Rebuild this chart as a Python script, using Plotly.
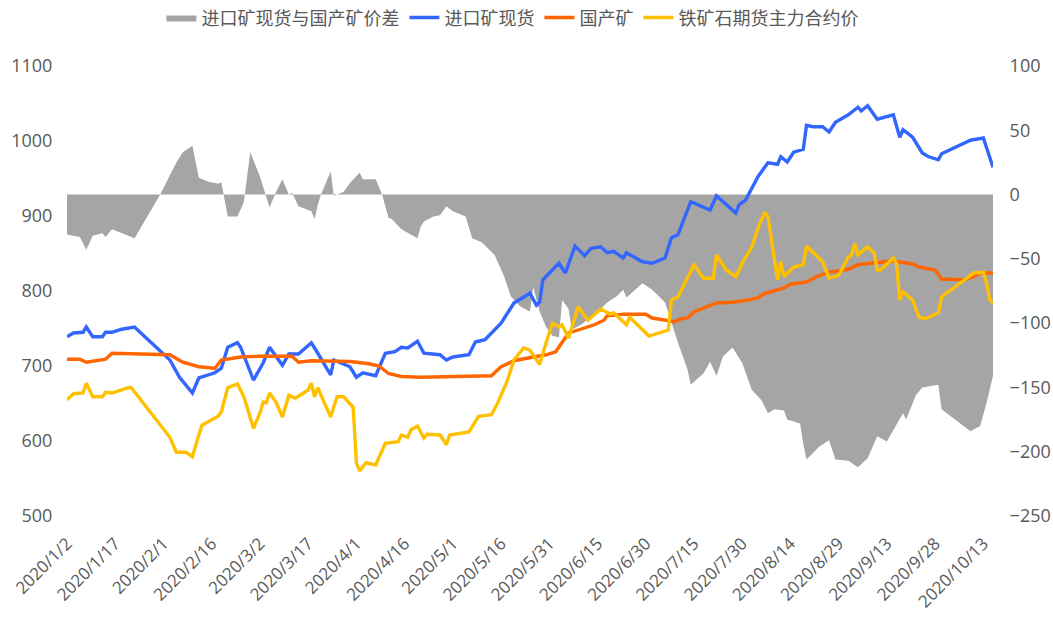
import plotly.graph_objects as go

# ---------------- data ----------------
imp_dates = ["01-02","01-04","01-07","01-08","01-10","01-13","01-14","01-16","01-19","01-23",
             "02-03","02-06","02-10","02-12","02-17","02-19","02-21","02-24","02-25","02-29",
             "03-03","03-05","03-09","03-11","03-14","03-18","03-20","03-24","03-25","03-30",
             "04-01","04-03","04-07","04-10","04-13","04-15","04-17","04-20","04-22","04-27",
             "04-29","05-01","05-06","05-08","05-11","05-16","05-20","05-25","05-27","05-28",
             "05-29","05-31","06-03","06-05","06-08","06-11","06-13","06-16","06-18","06-20",
             "06-23","06-24","06-29","07-02","07-06","07-08","07-10","07-14","07-20","07-22",
             "07-25","07-28","07-29","07-31","08-04","08-07","08-10","08-11","08-13","08-15",
             "08-18","08-19","08-21","08-24","08-26","08-27","08-28","09-01","09-04","09-05",
             "09-07","09-10","09-15","09-17","09-18","09-21","09-24","09-26","09-29","09-30",
             "10-09","10-13","10-16"]
imp_vals = [739,744,745,752,739,739,745,745,749,752,
            708,685,664,684,691,697,725,731,725,681,
            704,725,701,716,716,731,717,688,708,699,
            685,691,687,717,719,725,724,733,717,715,
            708,712,715,732,735,757,784,797,781,785,
            815,824,837,824,860,847,857,859,851,853,
            844,851,839,837,844,871,875,919,908,927,
            915,904,915,921,953,971,969,979,972,985,
            989,1021,1019,1019,1012,1019,1025,1035,1045,1040,
            1047,1029,1035,1005,1015,1005,984,979,975,983,
            1001,1004,965]

dom_dates = ["01-02","01-06","01-08","01-11","01-14","01-16","02-03","02-07","02-12","02-17",
             "02-19","02-25","03-02","03-12","03-14","03-18","03-30","04-05","04-08","04-11",
             "04-15","04-21","04-30","05-08","05-13","05-16","05-20","05-26","05-30","06-02",
             "06-04","06-06","06-09","06-14","06-17","06-18","06-23","06-30","07-02","07-07",
             "07-09","07-11","07-13","07-15","07-19","07-22","07-27","08-01","08-04","08-06",
             "08-08","08-12","08-14","08-19","08-22","08-26","09-01","09-04","09-08","09-15",
             "09-21","09-23","09-28","09-30","10-07","10-10","10-12","10-16"]
dom_vals = [709,709,705,707,709,717,715,705,699,697,
            708,712,713,713,705,707,706,703,700,690,
            686,685,686,686,687,699,707,712,715,719,
            732,744,748,755,761,767,769,769,764,761,
            759,763,764,772,779,784,785,788,791,797,
            799,804,809,812,819,825,829,835,837,840,
            836,832,828,816,815,819,824,824]

fut_dates = ["01-02","01-04","01-07","01-08","01-10","01-13","01-14","01-16","01-21","01-22",
             "02-03","02-05","02-08","02-10","02-12","02-13","02-18","02-19","02-21","02-24",
             "02-26","02-29","03-02","03-03","03-04","03-05","03-07","03-09","03-11","03-13",
             "03-17","03-18","03-19","03-20","03-24","03-26","03-28","03-31","04-01","04-02",
             "04-04","04-07","04-10","04-14","04-15","04-17","04-18","04-20","04-22","04-23",
             "04-27","04-29","04-30","05-06","05-09","05-13","05-15","05-18","05-20","05-23",
             "05-25","05-27","05-28","05-30","06-01","06-03","06-04","06-06","06-09","06-12",
             "06-16","06-19","06-20","06-24","06-25","07-01","07-07","07-08","07-10","07-15",
             "07-18","07-21","07-22","07-25","07-28","07-30","08-02","08-04","08-06","08-07",
             "08-10","08-11","08-12","08-15","08-18","08-19","08-21","08-24","08-26","08-29",
             "09-01","09-02","09-03","09-04","09-07","09-09","09-10","09-11","09-15","09-16",
             "09-17","09-18","09-21","09-23","09-25","09-29","09-30","10-10","10-13","10-14",
             "10-15","10-16"]
fut_vals = [655,663,664,677,659,659,665,664,671,671,
            605,585,585,579,608,621,633,639,671,676,
            659,617,637,652,651,664,652,632,661,657,
            668,677,659,671,632,659,659,645,571,560,
            571,568,597,599,608,605,615,620,604,609,
            608,595,608,612,633,635,651,681,708,724,
            721,708,702,731,757,752,755,737,779,761,
            776,769,771,755,765,740,748,788,792,835,
            817,817,848,828,819,837,859,885,905,899,
            815,839,819,832,835,860,851,839,817,821,
            845,848,863,848,859,851,828,828,844,837,
            788,799,788,765,763,771,792,824,825,811,
            788,784]

spr_dates = ["01-02","01-04","01-06","01-08","01-10","01-13","01-14","01-16","01-23","01-31",
             "02-05","02-07","02-10","02-12","02-15","02-18","02-19","02-21","02-24","02-26",
             "02-28","03-02","03-05","03-07","03-09","03-11","03-12","03-14","03-18","03-19",
             "03-20","03-21","03-24","03-25","03-28","03-30","04-02","04-03","04-07","04-09",
             "04-11","04-12","04-15","04-20","04-21","04-22","04-25","04-27","04-29","05-01",
             "05-05","05-07","05-10","05-14","05-17","05-19","05-22","05-25","05-26","05-28",
             "05-30","06-01","06-03","06-04","06-06","06-07","06-10","06-12","06-16","06-18",
             "06-21","06-23","06-24","06-29","07-02","07-06","07-08","07-10","07-13","07-14",
             "07-18","07-20","07-22","07-24","07-27","07-30","08-02","08-05","08-07","08-09",
             "08-12","08-13","08-17","08-18","08-19","08-23","08-26","08-28","09-01","09-04",
             "09-07","09-10","09-13","09-18","09-19","09-22","09-24","09-29","09-30","10-09",
             "10-12","10-14","10-16"]
spr_vals = [-31,-32,-33,-43,-32,-30,-33,-27,-34,0,
            25,33,38,13,10,8.5,9.6,-17,-17,-6,
            33,14,-10,2,12,0,1.5,-9,-13,-19,
            -8,0,18,-1,2,9,17,12,12,0,
            -18,-19,-27,-34,-25,-21,-17,-16,-9,-13,
            -17,-34,-37,-47,-64,-79,-87,-91,-72,-91,
            -103,-110,-111,-82,-89,-105,-101,-97,-89,-84,
            -79,-74,-80,-69,-74,-84,-100,-115,-136,-148,
            -139,-130,-141,-126,-119,-131,-152,-160,-170,-167,
            -168,-175,-178,-194,-206,-196,-191,-206,-207,-212,
            -205,-188,-192,-170,-175,-156,-150,-148,-167,-184,
            -180,-162,-141]

tick_dates = ["2020-01-02","2020-01-17","2020-02-01","2020-02-16","2020-03-02","2020-03-17",
              "2020-04-01","2020-04-16","2020-05-01","2020-05-16","2020-05-31","2020-06-15",
              "2020-06-30","2020-07-15","2020-07-30","2020-08-14","2020-08-29","2020-09-13",
              "2020-09-28","2020-10-13"]
tick_text = ["2020/1/2","2020/1/17","2020/2/1","2020/2/16","2020/3/2","2020/3/17",
             "2020/4/1","2020/4/16","2020/5/1","2020/5/16","2020/5/31","2020/6/15",
             "2020/6/30","2020/7/15","2020/7/30","2020/8/14","2020/8/29","2020/9/13",
             "2020/9/28","2020/10/13"]

names = ["进口矿现货与国产矿价差", "进口矿现货", "国产矿", "铁矿石期货主力合约价"]
left_ticks = [500, 600, 700, 800, 900, 1000, 1100]
right_ticks = [-250, -200, -150, -100, -50, 0, 50, 100]


def full(ds):
    return ["2020-" + d for d in ds]


TXT = "#595959"
CJK = "Noto Sans CJK SC"

fig = go.Figure()
fig.add_trace(go.Scatter(x=full(spr_dates), y=spr_vals, name=names[0], mode="lines",
                         line=dict(width=0, color="#A5A5A5"), fill="tozeroy",
                         fillcolor="#A5A5A5", yaxis="y"))
fig.add_trace(go.Scatter(x=full(imp_dates), y=imp_vals, name=names[1], mode="lines",
                         line=dict(width=3.4, color="#3366FF"), yaxis="y2"))
fig.add_trace(go.Scatter(x=full(dom_dates), y=dom_vals, name=names[2], mode="lines",
                         line=dict(width=3.4, color="#FF6600"), yaxis="y2"))
fig.add_trace(go.Scatter(x=full(fut_dates), y=fut_vals, name=names[3], mode="lines",
                         line=dict(width=3.4, color="#FFC000"), yaxis="y2"))

fig.update_layout(
    width=1053, height=617,
    margin=dict(l=67, r=60, t=66, b=101, autoexpand=False),
    paper_bgcolor="white", plot_bgcolor="white",
    font=dict(family="Open Sans", size=18, color=TXT),
    showlegend=True,
    legend=dict(orientation="h", x=0.481, xanchor="center", y=1.107, yanchor="middle",
                font=dict(family=CJK, size=18, color=TXT), traceorder="normal",
                itemwidth=30, tracegroupgap=0),
    xaxis=dict(type="date", range=["2020-01-02", "2020-10-16"], tickmode="array",
               tickvals=tick_dates, ticktext=tick_text, tickangle=-45,
               showgrid=False, zeroline=False, showline=False,
               ticks="outside", ticklen=10, tickcolor="rgba(0,0,0,0)",
               tickfont=dict(family="Open Sans", size=17, color=TXT), automargin=False),
    yaxis=dict(side="right", range=[-250, 100], tickmode="array", tickvals=right_ticks,
               showgrid=False, zeroline=False, showline=False,
               ticks="outside", ticklen=12, tickcolor="rgba(0,0,0,0)",
               tickfont=dict(size=18, color=TXT), automargin=False),
    yaxis2=dict(side="left", overlaying="y", range=[500, 1100], tickmode="array",
                tickvals=left_ticks, showgrid=False, zeroline=False, showline=False,
                ticks="outside", ticklen=10, tickcolor="rgba(0,0,0,0)",
                tickfont=dict(size=18, color=TXT), automargin=False),
)

fig.write_html("out.html", config={"displayModeBar": False},
               post_script="document.body.style.margin='0';document.body.style.overflow='hidden';")
